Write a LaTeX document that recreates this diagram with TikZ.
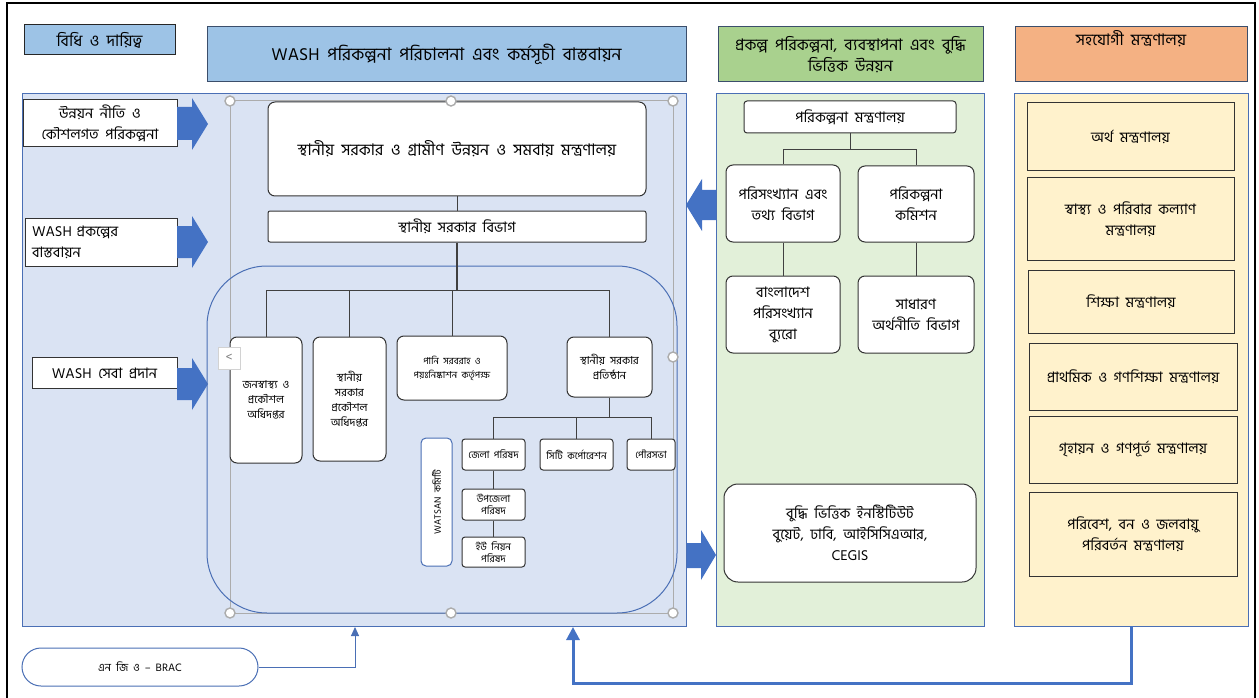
\documentclass[tikz,border=0pt]{standalone}
\usepackage{fontspec}
\setmainfont[Script=Bengali,WordSpace=2]{Hind Siliguri}
\usetikzlibrary{positioning}
\usetikzlibrary{arrows.meta}

\definecolor{headblue}{HTML}{9DC3E6}
\definecolor{headgreen}{HTML}{A9D18E}
\definecolor{headorange}{HTML}{F4B183}
\definecolor{panelblue}{HTML}{DAE3F3}
\definecolor{panelgreen}{HTML}{E2F0D9}
\definecolor{panelyellow}{HTML}{FFF2CC}
\definecolor{panelline}{HTML}{4A6FB5}
\definecolor{arrowblue}{HTML}{4472C4}
\definecolor{hdline}{HTML}{3B4E6B}

\tikzset{
  bigtext/.style={font=\fontsize{16}{21}\selectfont},
  midtext/.style={font=\fontsize{14.5}{21}\selectfont},
  smalltext/.style={font=\fontsize{11}{15}\selectfont},
  tinytext/.style={font=\fontsize{10}{12.5}\selectfont},
  panel/.style={draw=panelline, line width=0.9pt, inner sep=0pt},
  hbox/.style={draw=hdline, line width=1pt, align=center, inner sep=2pt, bigtext},
  wbox/.style={draw=black!80, fill=white, line width=1pt, align=center, inner sep=2pt},
  rbox/.style={wbox, rounded corners=7pt},
  ybox/.style={draw=black!80, line width=1pt, align=center, inner sep=2pt, midtext},
  conn/.style={draw=black!75, line width=1pt},
  handle/.style={circle, draw=gray!65, fill=white, line width=1.4pt, minimum size=10pt, inner sep=0pt},
  thinarrow/.style={draw=panelline, line width=1pt, -{Triangle[length=9pt,width=8pt]}},
  thickarrow/.style={draw=arrowblue, line width=3pt, -{Triangle[length=13pt,width=13pt]}}
}

\begin{document}
\begin{tikzpicture}[x=1pt,y=-1pt]
\useasboundingbox (0,0) rectangle (1259,698);
\draw[line width=2.5pt] (7,720) -- (7,3) -- (1255,3) -- (1255,720);

\node[hbox, draw=black!85, fill=headblue, minimum width=151, minimum height=30] (rules) at (99.5,40) {বিধি ও দায়িত্ব};
\node[hbox, fill=headblue, font=\fontsize{17.5}{21}\selectfont, minimum width=479, minimum height=55] (washhead) at (446.5,54.5) {WASH পরিকল্পনা পরিচালনা এবং কর্মসূচী বাস্তবায়ন};
\node[hbox, fill=headgreen, minimum width=265, minimum height=55] (planhead) at (850.5,54.5) {প্রকল্প পরিকল্পনা, ব্যবস্থাপনা এবং বুদ্ধি\\ভিত্তিক উন্নয়ন};
\node[hbox, fill=headorange, minimum width=232, minimum height=55] (coophead) at (1131,54.5) {};
\node[bigtext, anchor=north, inner sep=0pt] (coopheadtxt) at (1131,30) {সহযোগী মন্ত্রণালয়};

\node[panel, fill=panelblue, minimum width=664, minimum height=533] (washpanel) at (354,359.5) {};
\node[panel, fill=panelgreen, minimum width=268, minimum height=533] (planpanel) at (850,359.5) {};
\node[panel, fill=panelyellow, minimum width=234, minimum height=533] (cooppanel) at (1131,359.5) {};

\node[wbox, midtext, minimum width=154, minimum height=47] (devpolicy) at (100,123.5) {উন্নয়ন নীতি ও\\কৌশলগত পরিকল্পনা};
\node[wbox, midtext, minimum width=152, minimum height=48, align=left, text width=138] (washproj) at (101,242) {WASH প্রকল্পের\\বাস্তবায়ন};
\node[wbox, midtext, minimum width=145, minimum height=31] (washserv) at (104.5,373) {WASH সেবা প্রদান};

\fill[arrowblue] (177,107) -- (192,107) -- (192,98) -- (208,124) -- (192,150) -- (192,140) -- (177,140) -- cycle;
\fill[arrowblue] (177,226) -- (192,226) -- (192,216) -- (208,242) -- (192,268) -- (192,258) -- (177,258) -- cycle;
\fill[arrowblue] (177,368) -- (192,368) -- (192,358) -- (208,384) -- (192,410) -- (192,400) -- (177,400) -- cycle;
\fill[arrowblue] (716,190) -- (702,190) -- (702,179) -- (686,205) -- (702,231) -- (702,220) -- (716,220) -- cycle;
\fill[arrowblue] (687,543) -- (701,543) -- (701,530) -- (716,555) -- (701,580) -- (701,568) -- (687,568) -- cycle;

\draw[gray!65, line width=1pt] (230,101) rectangle (673,613);
\draw[panelline, line width=1pt, rounded corners=60pt] (207,266) rectangle (677,613);

\node[rbox, bigtext, minimum width=378, minimum height=94] (lgrd) at (457,149) {স্থানীয় সরকার ও গ্রামীণ উন্নয়ন ও সমবায় মন্ত্রণালয়};
\node[wbox, midtext, rounded corners=2pt, minimum width=378, minimum height=31] (lgd) at (457,226.5) {স্থানীয় সরকার বিভাগ};
\draw[conn] (lgrd) -- (lgd);
\draw[conn, line width=2pt] (lgd.south) -- ++(0,48) coordinate (lgdbus);

\node[rbox, smalltext, minimum width=72, minimum height=126] (dphe) at (266,400) {জনস্বাস্থ্য ও\\প্রকৌশল\\অধিদপ্তর};
\node[rbox, smalltext, minimum width=73, minimum height=124] (lged) at (349.5,399) {স্থানীয়\\সরকার\\প্রকৌশল\\অধিদপ্তর};
\node[rbox, font=\fontsize{9.5}{14}\selectfont, minimum width=110, minimum height=64] (wasa) at (452,368) {পানি সরবরাহ ও\\পয়ঃনিষ্কাশন কর্তৃপক্ষ};
\node[rbox, smalltext, minimum width=85, minimum height=60] (lgi) at (609.5,367) {স্থানীয় সরকার\\প্রতিষ্ঠান};
\foreach \child in {dphe,lged,wasa,lgi}
  \draw[conn] (lgdbus) -| (\child.north);

\node[rbox, tinytext, rounded corners=3pt, minimum width=63, minimum height=31] (zp) at (493.5,454.5) {জেলা পরিষদ};
\node[rbox, tinytext, rounded corners=3pt, minimum width=73, minimum height=31] (cc) at (576.5,454.5) {সিটি কর্পোরেশন};
\node[rbox, tinytext, rounded corners=3pt, minimum width=48, minimum height=31] (paura) at (651,454.5) {পৌরসভা};
\node[rbox, tinytext, rounded corners=3pt, minimum width=63, minimum height=31] (upz) at (493.5,504.5) {উপজেলা\\পরিষদ};
\node[rbox, tinytext, rounded corners=3pt, minimum width=63, minimum height=30] (up) at (493.5,552) {ইউ নিয়ন\\পরিষদ};
\draw[conn] (lgi.south) -- ++(0,20) coordinate (lgibus);
\foreach \child in {zp,cc,paura}
  \draw[conn] (lgibus) -| (\child.north);
\draw[conn] (zp) -- (upz);
\draw[conn] (upz) -- (up);
\node[wbox, font=\fontsize{9.5}{12}\selectfont, draw=panelline, rounded corners=5pt, rotate=90, minimum width=128, minimum height=31] (watsan) at (436.5,502) {WATSAN কমিটি};

\foreach \hx/\hy [count=\i] in {230/101,451/101,673/101,673/357,673/613,451/613,230/613}
  \node[handle] (hd\i) at (\hx,\hy) {};
\node[draw=gray!35, fill=white, line width=1pt, minimum width=22, minimum height=22, inner sep=0pt, text=gray, font=\fontsize{13}{13}\selectfont] (collapse) at (229,358) {\textless};

\node[wbox, midtext, rounded corners=3pt, minimum width=212, minimum height=32] (mplan) at (850,117) {পরিকল্পনা মন্ত্রণালয়};
\node[rbox, midtext, minimum width=114, minimum height=77] (sid) at (783,203.5) {পরিসংখ্যান এবং\\তথ্য বিভাগ};
\node[rbox, midtext, minimum width=116, minimum height=76] (pcom) at (916,204) {পরিকল্পনা\\কমিশন};
\node[rbox, midtext, minimum width=114, minimum height=77] (bbs) at (783,314.5) {বাংলাদেশ\\পরিসংখ্যান\\ব্যুরো};
\node[rbox, midtext, minimum width=116, minimum height=77] (ged) at (916,314.5) {সাধারণ\\অর্থনীতি বিভাগ};
\draw[conn] (mplan.south) -- ++(0,16) -| (sid.north);
\draw[conn] (mplan.south) -- ++(0,16) -| (pcom.north);
\draw[conn] (sid) -- (bbs);
\draw[conn] (pcom) -- (ged);
\node[wbox, midtext, rounded corners=14pt, minimum width=252, minimum height=98] (inst) at (850,533) {বুদ্ধি ভিত্তিক ইনস্টিটিউট\\বুয়েট, ঢাবি, আইসিসিএআর,\\CEGIS};

\node[ybox, minimum width=207, minimum height=68] (finmin) at (1130.5,137) {অর্থ মন্ত্রণালয়};
\node[ybox, minimum width=207, minimum height=82] (healthmin) at (1130.5,219) {স্বাস্থ্য ও পরিবার কল্যাণ\\মন্ত্রণালয়};
\node[ybox, minimum width=206, minimum height=63] (edumin) at (1131,301.5) {শিক্ষা মন্ত্রণালয়};
\node[ybox, minimum width=208, minimum height=67] (primmin) at (1133,376.5) {প্রাথমিক ও গণশিক্ষা মন্ত্রণালয়};
\node[ybox, minimum width=208, minimum height=67] (housemin) at (1133,449.5) {গৃহায়ন ও গণপূর্ত মন্ত্রণালয়};
\node[ybox, minimum width=208, minimum height=84] (envmin) at (1133,534) {পরিবেশ, বন ও জলবায়ু\\পরিবর্তন মন্ত্রণালয়};

\node[wbox, smalltext, draw=panelline, rounded corners=19pt, minimum width=236, minimum height=38] (ngo) at (140,667) {এন জি ও -- BRAC};
\coordinate (ngoin) at (355,627);
\coordinate (coopin) at (573,627);
\draw[thinarrow] (ngo.east) -| (ngoin);
\draw[thickarrow] (cooppanel.south) -- ++(0,57) -| (coopin);

\end{tikzpicture}
\end{document}
